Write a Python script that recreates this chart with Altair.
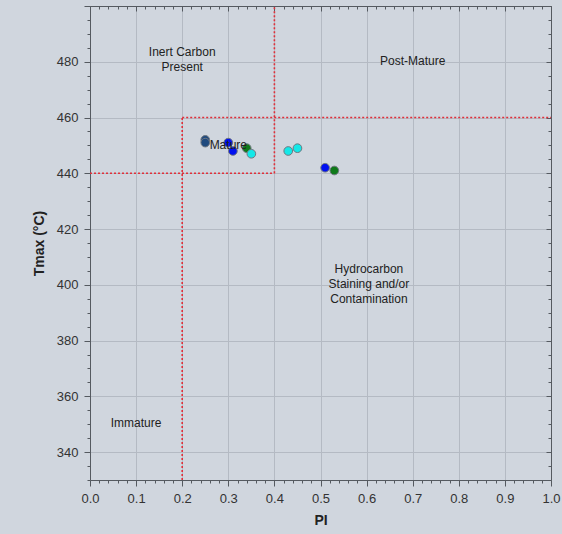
import altair as alt
import pandas as pd

# ---- data ----
pi_vals = [0.25, 0.25, 0.30, 0.31, 0.34, 0.35, 0.43, 0.45, 0.51, 0.53]
tmax_vals = [452, 451, 451, 448, 449, 447, 448, 449, 442, 441]
groups = ["Navy", "Navy", "Blue", "Blue", "Green", "Cyan", "Cyan", "Cyan", "Blue", "Green"]

group_names = ["Navy", "Blue", "Green", "Cyan"]
group_colors = ["#1f4a7e", "#0010f0", "#0f7a1a", "#14e8e8"]

# boundary lines (PI from, PI to, Tmax from, Tmax to)
seg_x = [0.2, 0.4, 0.2, 0.0]
seg_x2 = [0.2, 0.4, 1.0, 0.4]
seg_y = [330, 440, 460, 440]
seg_y2 = [460, 500, 460, 440]

# zone labels
label_text = [["Inert Carbon", "Present"], ["Post-Mature"], ["Mature"],
              ["Hydrocarbon", "Staining and/or", "Contamination"], ["Immature"]]
label_x = [0.20, 0.70, 0.30, 0.605, 0.10]
label_y = [483.5, 480.3, 450, 405.8, 350.5]

x_ticks = [round(i * 0.02, 2) for i in range(51)]
y_ticks = list(range(330, 501, 5))

BG = "#d0d6de"
GRID = "#b4bac3"
AX = "#555a60"

pts = pd.DataFrame({"PI": pi_vals, "Tmax": tmax_vals, "grp": groups})
segs = pd.DataFrame({"x": seg_x, "x2": seg_x2, "y": seg_y, "y2": seg_y2})
labs = pd.DataFrame({"t": label_text, "x": label_x, "y": label_y})

xscale = alt.Scale(domain=[0, 1], nice=False, zero=False)
yscale = alt.Scale(domain=[330, 500], nice=False, zero=False)

x_major = "abs(round(datum.value*10) - datum.value*10) < 0.001"
y_major = "datum.value % 20 == 0"

x_axis = alt.Axis(
    values=x_ticks, title="PI", format=".1f",
    labelExpr=f"{x_major} ? format(datum.value, '.1f') : ''",
    tickSize={"condition": {"test": x_major, "value": 6}, "value": 3},
    gridOpacity={"condition": {"test": x_major, "value": 1}, "value": 0},
    gridColor=GRID, domainColor=AX, tickColor=AX, labelColor="#333333",
    labelFontSize=13, titleFontSize=14, titleFontWeight="bold", titleColor="#222222",
    labelFont="Liberation Sans", titleFont="Liberation Sans", labelPadding=6, titlePadding=8,
    labelFlush=False, labelOverlap=False,
)
y_axis = alt.Axis(
    values=y_ticks, title="Tmax (°C)",
    labelExpr=f"({y_major}) && datum.value <= 480 ? format(datum.value, 'd') : ''",
    tickSize={"condition": {"test": y_major, "value": 6}, "value": 3},
    gridOpacity={"condition": {"test": y_major, "value": 1}, "value": 0},
    gridColor=GRID, domainColor=AX, tickColor=AX, labelColor="#333333",
    labelFontSize=13, titleFontSize=14, titleFontWeight="bold", titleColor="#222222",
    labelFont="Liberation Sans", titleFont="Liberation Sans", labelPadding=6, titlePadding=10,
    labelFlush=False, labelOverlap=False,
)

W, H = 461, 474

# mirror axes: top and right with inward ticks
x_mirror = alt.Axis(
    values=x_ticks, orient="bottom", offset=-H, labels=False, title=None, grid=False,
    tickSize={"condition": {"test": x_major, "value": 5}, "value": 3},
    domainColor=AX, tickColor=AX,
)
y_mirror = alt.Axis(
    values=y_ticks, orient="left", offset=-W, labels=False, title=None, grid=False,
    tickSize={"condition": {"test": y_major, "value": 5}, "value": 3},
    domainColor=AX, tickColor=AX,
)

frame = alt.Chart(segs).mark_point(opacity=0).encode(
    x=alt.X("x:Q", scale=xscale, axis=x_mirror),
    y=alt.Y("y:Q", scale=yscale, axis=y_mirror),
)

lines = alt.Chart(segs).mark_rule(color="#e0303a", strokeDash=[2, 2], strokeWidth=1.6).encode(
    x=alt.X("x:Q", scale=xscale, axis=x_axis),
    x2="x2:Q",
    y=alt.Y("y:Q", scale=yscale, axis=y_axis),
    y2="y2:Q",
)

points = alt.Chart(pts).mark_circle(size=75, opacity=1, stroke="#6f7780", strokeWidth=1).encode(
    x=alt.X("PI:Q", scale=xscale, axis=None),
    y=alt.Y("Tmax:Q", scale=yscale, axis=None),
    color=alt.Color("grp:N", scale=alt.Scale(domain=group_names, range=group_colors), legend=None),
)

texts = alt.Chart(labs).mark_text(
    fontSize=12, font="Liberation Sans", color="#222222", lineHeight=15, baseline="middle"
).encode(
    x=alt.X("x:Q", scale=xscale, axis=None),
    y=alt.Y("y:Q", scale=yscale, axis=None),
    text="t",
)

chart = alt.layer(lines, frame, points, texts).resolve_axis(
    x="independent", y="independent"
).properties(
    width=W, height=H,
    autosize=alt.AutoSizeParams(type="none"),
    padding={"left": 90, "top": 6, "right": 11, "bottom": 54},
    background=BG,
).configure_view(stroke=None, fill=BG)

chart.save("out.html", embed_options={"renderer": "svg", "actions": False})
